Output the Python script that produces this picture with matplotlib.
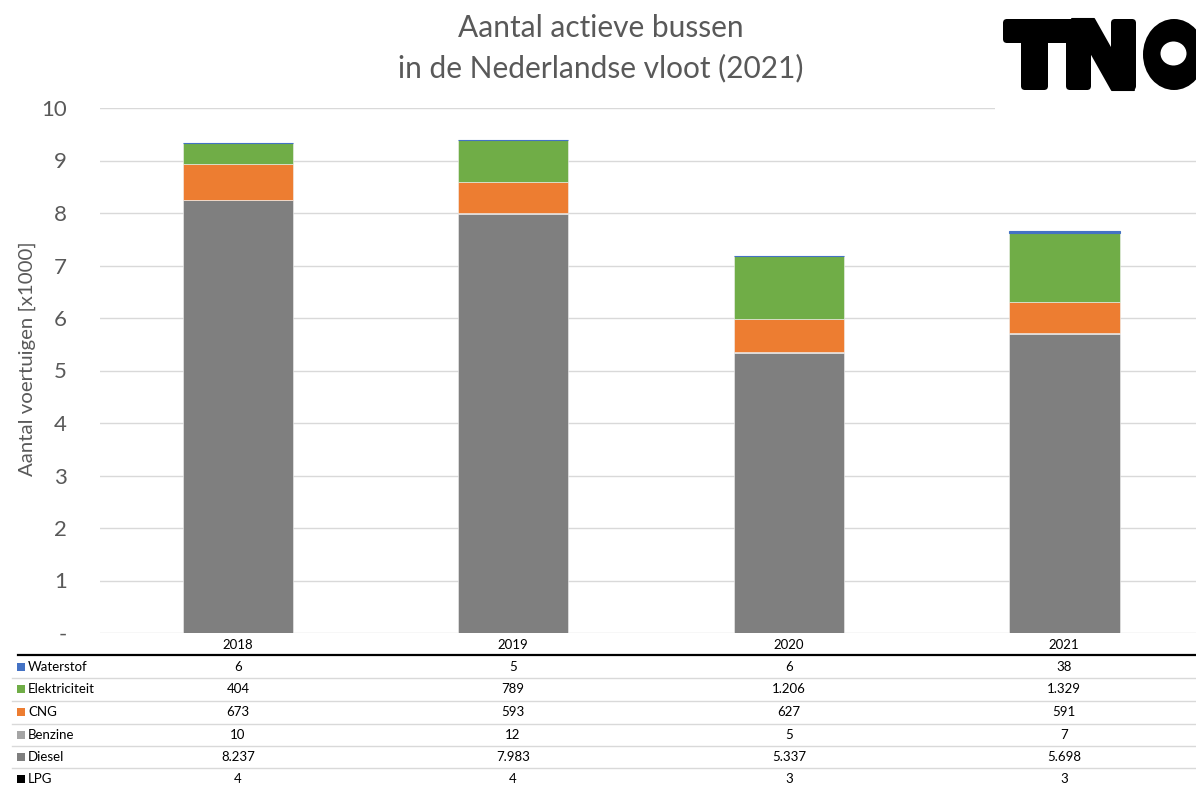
import matplotlib
matplotlib.use("Agg")
import matplotlib.pyplot as plt
from matplotlib.patches import Rectangle, FancyBboxPatch, Polygon, Ellipse
from matplotlib.lines import Line2D

years = ["2018", "2019", "2020", "2021"]
series_names = ["Waterstof", "Elektriciteit", "CNG", "Benzine", "Diesel", "LPG"]
waterstof = [6, 5, 6, 38]
elektriciteit = [404, 789, 1206, 1329]
cng = [673, 593, 627, 591]
benzine = [10, 12, 5, 7]
diesel = [8237, 7983, 5337, 5698]
lpg = [4, 4, 3, 3]
y_ticks = [0, 1, 2, 3, 4, 5, 6, 7, 8, 9, 10]
y_tick_labels = ["-", "1", "2", "3", "4", "5", "6", "7", "8", "9", "10"]

colors = {
    "Waterstof": "#4472C4",
    "Elektriciteit": "#70AD47",
    "CNG": "#ED7D31",
    "Benzine": "#A5A5A5",
    "Diesel": "#7F7F7F",
    "LPG": "#000000",
}
values = {
    "Waterstof": waterstof,
    "Elektriciteit": elektriciteit,
    "CNG": cng,
    "Benzine": benzine,
    "Diesel": diesel,
    "LPG": lpg,
}

FONT = ["Lato", "DejaVu Sans"]
TXT = "#595959"
W, H = 1196, 785

fig = plt.figure(figsize=(W / 100, H / 100), dpi=100)
fig.patch.set_facecolor("white")


def fx(px):
    return px / W


def fy(py):
    return 1 - py / H


ax = fig.add_axes([fx(100), fy(633), fx(1196) - fx(100), fy(108) - fy(633)])
x = list(range(len(years)))

# stacked bars, bottom to top
bottom = [0.0] * len(years)
for name in ["LPG", "Diesel", "Benzine", "CNG", "Elektriciteit", "Waterstof"]:
    vals = [v / 1000 for v in values[name]]
    if name == "Waterstof":
        ax.bar(x, vals, width=0.4, bottom=bottom, color=colors[name],
               edgecolor=colors[name], linewidth=0.8, zorder=3)
    else:
        ax.bar(x, vals, width=0.4, bottom=bottom, color=colors[name],
               edgecolor="#f2f2f2", linewidth=0.4, zorder=3)
    bottom = [b + v for b, v in zip(bottom, vals)]

ax.set_xlim(-0.5, 3.477)
ax.set_ylim(0, 10)
ax.set_yticks(y_ticks)
ax.set_yticklabels(y_tick_labels, fontfamily=FONT, fontsize=16, color=TXT)
ax.set_xticks([])
ax.tick_params(axis="y", length=0, pad=24)
for s in ax.spines.values():
    s.set_visible(False)
ax.grid(axis="y", color="#d9d9d9", linewidth=1, zorder=0)
ax.set_axisbelow(True)
ax.set_ylabel("Aantal voertuigen [x1000]", fontfamily=FONT, fontsize=14.7,
              color=TXT)
ax.yaxis.set_label_coords(-0.058, 0.522)

# title
fig.text(fx(601), fy(28), "Aantal actieve bussen", ha="center", va="center",
         fontfamily=FONT, fontsize=21.5, color=TXT)
fig.text(fx(601), fy(68), "in de Nederlandse vloot (2021)", ha="center",
         va="center", fontfamily=FONT, fontsize=21.5, color=TXT)

# logo, drawn on a pixel-space overlay
lax = fig.add_axes([0, 0, 1, 1], zorder=5)
lax.set_xlim(0, W)
lax.set_ylim(H, 0)
lax.axis("off")
lax.patch.set_alpha(0)
lax.add_patch(Rectangle((995, 0), W - 995, 112, facecolor="white",
                        edgecolor="none"))


def rbox(x0, y0, w, h, r=4):
    lax.add_patch(FancyBboxPatch((x0 + r, y0 + r), w - 2 * r, h - 2 * r,
                                 boxstyle=f"round,pad={r}",
                                 facecolor="black", edgecolor="none"))


rbox(1003, 19, 92, 24)          # T bar joined to N
rbox(1021, 19, 27, 71)          # T stem
rbox(1066, 19, 25, 71)          # N left stem
rbox(1111, 19, 25, 71)          # N right stem
lax.add_patch(Polygon([(1072, 19), (1094, 19), (1134, 90), (1112, 90)],
                      closed=True, facecolor="black", edgecolor="black",
                      linewidth=1.5, joinstyle="round"))
lax.add_patch(Ellipse((1174, 54.5), 62, 71, facecolor="black",
                      edgecolor="none"))
lax.add_patch(Ellipse((1173.5, 53.5), 26, 24, facecolor="white",
                      edgecolor="none"))

# data table
col_px = [238, 513, 789, 1064]
for cx, yr in zip(col_px, years):
    fig.text(fx(cx), fy(645), yr, ha="center", va="center",
             fontfamily=FONT, fontsize=9.5, color="black")
fig.add_artist(Line2D([fx(18), 1], [fy(655), fy(655)], color="black",
                      linewidth=1.6, transform=fig.transFigure))


def fmt(v):
    return f"{v:,}".replace(",", ".")


row_y = [667, 689, 712, 735, 757, 779]
for i, (name, ry) in enumerate(zip(series_names, row_y)):
    fig.patches.append(Rectangle((fx(17), fy(ry + 4)), fx(8), fy(0) - fy(8),
                                 transform=fig.transFigure,
                                 facecolor=colors[name], edgecolor="none"))
    fig.text(fx(28), fy(ry), name, ha="left", va="center", fontfamily=FONT,
             fontsize=9.5, color="black")
    for cx, v in zip(col_px, values[name]):
        fig.text(fx(cx), fy(ry), fmt(v), ha="center", va="center",
                 fontfamily=FONT, fontsize=9.5, color="black")
    if i < len(series_names) - 1:
        sy = (ry + row_y[i + 1]) / 2
        fig.add_artist(Line2D([fx(12), 1], [fy(sy), fy(sy)], color="#d9d9d9",
                              linewidth=1, transform=fig.transFigure))

fig.savefig("out.png", dpi=100)
